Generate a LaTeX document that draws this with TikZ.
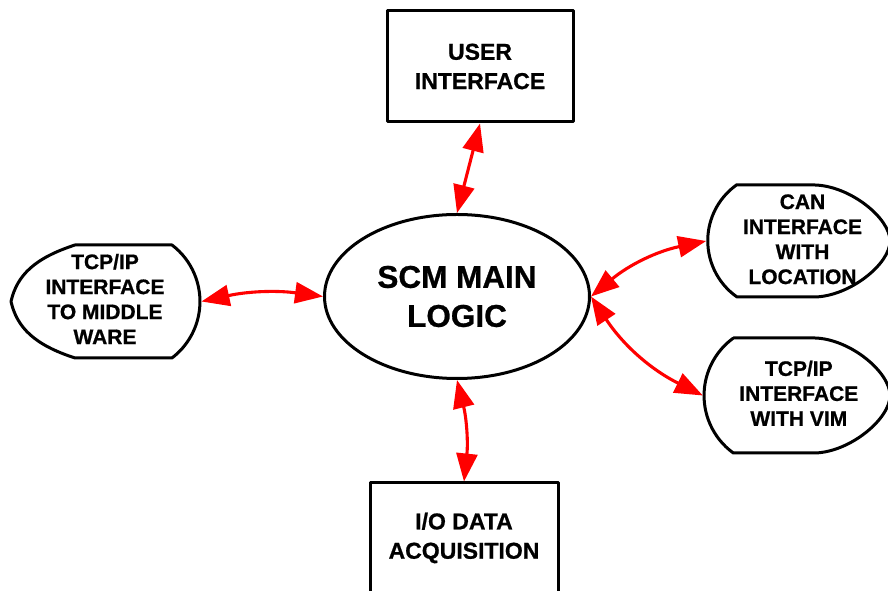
\documentclass[tikz,border=0pt]{standalone}
\usepackage{fontspec}
\setmainfont[FakeBold=0.8]{Liberation Sans}
\usetikzlibrary{arrows.meta,shapes.geometric}

\tikzset{
  outline/.style={draw=black, line width=3pt, line join=round},
  boxnode/.style={outline, rectangle, inner sep=0pt, align=center,
    font=\fontsize{23}{29.3}\selectfont\bfseries},
  hubnode/.style={outline, ellipse, inner sep=0pt, align=center,
    font=\fontsize{31.5}{39}\selectfont\bfseries},
  sidetext/.style={inner sep=0pt, align=center,
    font=\fontsize{21}{25}\selectfont\bfseries},
  link/.style={draw=red, line width=3.1pt,
    {Triangle[length=28pt,width=21pt]}-{Triangle[length=28pt,width=21pt]}},
}

\begin{document}
\begin{tikzpicture}[x=1pt,y=1pt]
  \path[use as bounding box] (0,0) rectangle (888,591);
  \clip (0,0) rectangle (888,591);

  % rectangular blocks and the central logic
  \node[boxnode, minimum width=186pt, minimum height=111pt] (ui) at (480,524.5) {USER\\INTERFACE};
  \node[boxnode, minimum width=188pt, minimum height=110pt] (io) at (464,53) {I/O DATA\\ACQUISITION};
  \node[hubnode, minimum width=265pt, minimum height=164pt] (scm) at (457,294.5) {SCM MAIN\\LOGIC};

  % middleware interface (pointed on the left, arc on the right)
  \draw[outline] (75,346) -- (172,346)
    arc[start angle=52.7, end angle=-52.7, radius=71]
    -- (75,233)
    .. controls (35,246) and (17,263) .. (11,289.5)
    .. controls (17,316) and (35,333) .. (75,346) -- cycle;
  \node[sidetext] (mwtext) at (105,292) {TCP/IP\\INTERFACE\\TO MIDDLE\\WARE};
  \coordinate (mw-e) at (201.5,289.5);

  % CAN interface (arc on the left, rounded nose on the right)
  \draw[outline] (737,406) -- (815,406)
    .. controls (850,405) and (890,373) .. (890,350)
    .. controls (890,327) and (850,295) .. (815,294)
    -- (737,294)
    arc[start angle=235, end angle=125, radius=68.6] -- cycle;
  \node[sidetext] (cantext) at (802.5,351.7) {CAN\\INTERFACE\\WITH\\LOCATION};
  \coordinate (can-w) at (706.2,350);

  % VIM interface
  \draw[outline] (733.3,253) -- (815,253)
    .. controls (850,252) and (890,219) .. (890,195.5)
    .. controls (890,172) and (850,139) .. (815,138)
    -- (733.3,138)
    arc[start angle=234, end angle=126, radius=71] -- cycle;
  \node[sidetext] (vimtext) at (798.8,197.7) {TCP/IP\\INTERFACE\\WITH VIM};
  \coordinate (vim-w) at (702.8,195.5);

  % two-way links
  \draw[link] (ui.south) -- (scm.north);
  \draw[link] (scm.south) to[bend left=10] (io.north);
  \draw[link] (mw-e) to[bend left=10] (scm.west);
  \draw[link] (scm.east) to[bend left=14] (can-w);
  \draw[link] (scm.east) to[bend right=15] (vim-w);
\end{tikzpicture}
\end{document}
